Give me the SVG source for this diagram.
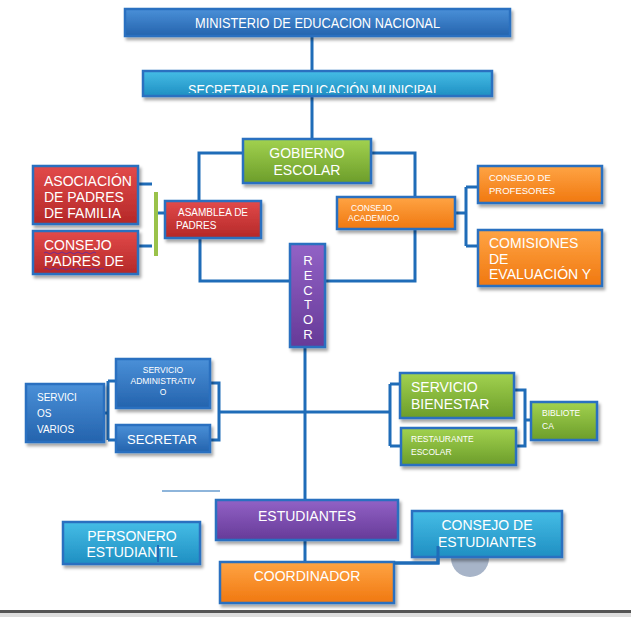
<svg xmlns="http://www.w3.org/2000/svg" width="631" height="617" viewBox="0 0 631 617">
<defs>
<linearGradient id="gb" x1="0" y1="0" x2="0" y2="1"><stop offset="0" stop-color="#4a90d8"/><stop offset="1" stop-color="#2463ad"/></linearGradient>
<linearGradient id="gg" x1="0" y1="0" x2="0" y2="1"><stop offset="0" stop-color="#a2d24f"/><stop offset="1" stop-color="#6c9d2a"/></linearGradient>
<linearGradient id="gr" x1="0" y1="0" x2="0" y2="1"><stop offset="0" stop-color="#e24a4a"/><stop offset="1" stop-color="#b42828"/></linearGradient>
<linearGradient id="go" x1="0" y1="0" x2="0" y2="1"><stop offset="0" stop-color="#ffa444"/><stop offset="1" stop-color="#f07810"/></linearGradient>
<linearGradient id="gp" x1="0" y1="0" x2="0" y2="1"><stop offset="0" stop-color="#9262c6"/><stop offset="1" stop-color="#663a98"/></linearGradient>
<linearGradient id="gc" x1="0" y1="0" x2="0" y2="1"><stop offset="0" stop-color="#45bde6"/><stop offset="1" stop-color="#1f8fc2"/></linearGradient>
<filter id="sh" x="-10%" y="-10%" width="130%" height="140%"><feDropShadow dx="2" dy="3" stdDeviation="1.5" flood-color="#000" flood-opacity="0.35"/></filter>
<clipPath id="cs"><rect x="143" y="71" width="349" height="22"/></clipPath>
</defs>
<style>
.bx{stroke:#2b70c0;stroke-width:2.5;filter:url(#sh)}
.t{font-family:"Liberation Sans",Arial,sans-serif;fill:#fff}
.c{fill:none;stroke:#1f6cb8;stroke-width:3}
</style>
<rect width="631" height="617" fill="#fff"/>
<g id="connectors">
<path class="c" d="M312 36V71M312 96V139"/>
<path class="c" d="M243 153H199V201M200 238V281H290"/>
<path class="c" d="M371 153H415V197M415 229V281H325"/>
<path class="c" d="M455 213H466M466 187V246M466 187H478M466 246H478"/>
<path class="c" d="M138 184H152M138 246H152M156 213H165"/>
<line x1="156" y1="192" x2="156" y2="256" stroke="#9ac24a" stroke-width="4"/>
<path class="c" d="M305 347V500"/>
<path class="c" d="M104 413H108M108 381V440M108 381H116M108 440H116"/>
<path class="c" d="M210 383H219V440H210M219 412H390M390 384V446M390 384H400M390 446H401"/>
<path class="c" d="M514 390H525V446H516M525 420H531"/>
<line x1="162" y1="491" x2="220" y2="491" stroke="#1f6cb8" stroke-width="1.2"/>
<path class="c" d="M305 540V562M394 563H438V546"/>
</g>
<g id="ministerio"><rect class="bx" x="125" y="9" width="385" height="27" fill="url(#gb)"/><text class="t" x="195" y="28" font-size="14" textLength="245" lengthAdjust="spacingAndGlyphs">MINISTERIO DE EDUCACION NACIONAL</text></g>
<g id="secretaria"><rect class="bx" x="143" y="71" width="349" height="25" fill="url(#gc)"/><text class="t" x="188" y="95" font-size="14" textLength="252" lengthAdjust="spacingAndGlyphs" clip-path="url(#cs)">SECRETARIA DE EDUCACIÓN MUNICIPAL</text></g>
<g id="gobierno"><rect class="bx" x="243" y="139" width="128" height="44" fill="url(#gg)"/><text class="t" x="307" y="158" font-size="14" text-anchor="middle">GOBIERNO</text><text class="t" x="307" y="175" font-size="14" text-anchor="middle">ESCOLAR</text></g>
<g id="asociacion"><rect class="bx" x="33" y="166" width="105" height="58" fill="url(#gr)"/><text class="t" font-size="14"><tspan x="44" y="186">ASOCIACIÓN</tspan><tspan x="44" y="202">DE PADRES</tspan><tspan x="44" y="218">DE FAMILIA</tspan></text></g>
<g id="consejopadres"><rect class="bx" x="33" y="231" width="105" height="43" fill="url(#gr)"/><text class="t" font-size="14"><tspan x="44" y="250">CONSEJO</tspan><tspan x="44" y="266">PADRES DE</tspan></text><path d="M44 253q2 -2 4 0t4 0t4 0t4 0t4 0t4 0t4 0t4 0t4 0t4 0t4 0t4 0t4 0M44 269q2 -2 4 0t4 0t4 0t4 0t4 0t4 0t4 0t4 0t4 0t4 0t4 0t4 0t4 0t4 0t4 0" fill="none" stroke="#5a2aa8" stroke-width="0.8"/></g>
<g id="asamblea"><rect class="bx" x="165" y="201" width="96" height="37" fill="url(#gr)"/><text class="t" font-size="10"><tspan x="178" y="216">ASAMBLEA DE</tspan><tspan x="176" y="229">PADRES</tspan></text></g>
<g id="academico"><rect class="bx" x="337" y="197" width="118" height="32" fill="url(#go)"/><text class="t" font-size="8.5"><tspan x="351" y="211">CONSEJO</tspan><tspan x="348" y="221">ACADEMICO</tspan></text></g>
<g id="profesores"><rect class="bx" x="478" y="166" width="124" height="37" fill="url(#go)"/><text class="t" font-size="9.5"><tspan x="489" y="181">CONSEJO DE</tspan><tspan x="489" y="194">PROFESORES</tspan></text></g>
<g id="comisiones"><rect class="bx" x="478" y="230" width="124" height="56" fill="url(#go)"/><text class="t" font-size="14"><tspan x="489" y="248">COMISIONES</tspan><tspan x="489" y="264">DE</tspan><tspan x="489" y="279">EVALUACIÓN Y</tspan></text></g>
<g id="rector"><rect class="bx" x="290" y="244" width="35" height="103" fill="url(#gp)"/><text class="t" font-size="13" text-anchor="middle"><tspan x="308" y="265">R</tspan><tspan x="308" y="280">E</tspan><tspan x="308" y="295">C</tspan><tspan x="308" y="309">T</tspan><tspan x="308" y="324">O</tspan><tspan x="308" y="339">R</tspan></text></g>
<g id="servadmin"><rect class="bx" x="116" y="359" width="94" height="49" fill="url(#gb)"/><text class="t" font-size="8.5" text-anchor="middle"><tspan x="163" y="373">SERVICIO</tspan><tspan x="163" y="384">ADMINISTRATIV</tspan><tspan x="163" y="395">O</tspan></text></g>
<g id="secretar"><rect class="bx" x="116" y="425" width="94" height="27" fill="url(#gb)"/><text class="t" x="162" y="444" font-size="13" text-anchor="middle">SECRETAR</text></g>
<g id="servvarios"><rect class="bx" x="26" y="384" width="78" height="58" fill="url(#gb)"/><text class="t" font-size="10"><tspan x="37" y="401">SERVICI</tspan><tspan x="37" y="417">OS</tspan><tspan x="37" y="433">VARIOS</tspan></text></g>
<g id="bienestar"><rect class="bx" x="400" y="373" width="114" height="45" fill="url(#gg)"/><text class="t" font-size="14"><tspan x="411" y="392">SERVICIO</tspan><tspan x="411" y="409">BIENESTAR</tspan></text></g>
<g id="restaurante"><rect class="bx" x="401" y="428" width="115" height="37" fill="url(#gg)"/><text class="t" font-size="8.5"><tspan x="411" y="442">RESTAURANTE</tspan><tspan x="411" y="455">ESCOLAR</tspan></text></g>
<g id="biblioteca"><rect class="bx" x="531" y="402" width="66" height="38" fill="url(#gg)"/><text class="t" font-size="8.5"><tspan x="542" y="416">BIBLIOTE</tspan><tspan x="542" y="429">CA</tspan></text></g>
<g id="estudiantes"><rect class="bx" x="216" y="500" width="182" height="40" fill="url(#gp)"/><text class="t" x="307" y="521" font-size="14" text-anchor="middle">ESTUDIANTES</text></g>
<g id="personero"><rect class="bx" x="63" y="522" width="137" height="42" fill="url(#gc)"/><text class="t" font-size="14" text-anchor="middle"><tspan x="132" y="541">PERSONERO</tspan><tspan x="132" y="557">ESTUDIANTIL</tspan></text><line x1="158" y1="545" x2="158" y2="562" stroke="#1f6cb8" stroke-width="2"/></g>
<circle cx="470" cy="558" r="19" fill="#a7b4c8"/>
<g id="consejoest"><rect class="bx" x="412" y="511" width="150" height="46" fill="url(#gc)"/><text class="t" font-size="14" text-anchor="middle"><tspan x="487" y="530">CONSEJO DE</tspan><tspan x="487" y="547">ESTUDIANTES</tspan></text></g>
<g id="coordinador"><rect class="bx" x="220" y="562" width="174" height="41" fill="url(#go)"/><text class="t" x="307" y="581" font-size="14" text-anchor="middle">COORDINADOR</text></g>
<path class="c" d="M394 563H438V546"/>
<rect x="0" y="610" width="631" height="3" fill="#555"/>
<rect x="0" y="613" width="631" height="4" fill="#ddd"/>
</svg>
